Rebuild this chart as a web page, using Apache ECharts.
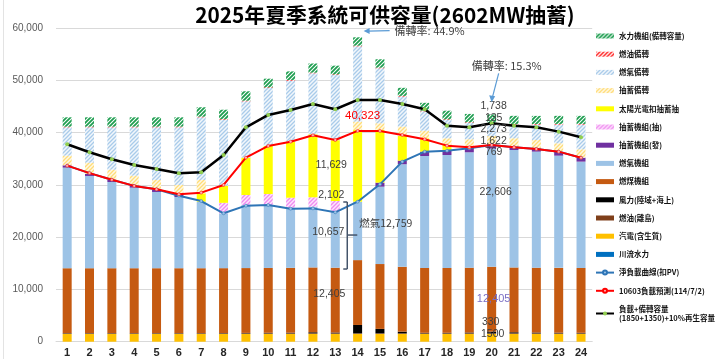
<!DOCTYPE html>
<html><head><meta charset="utf-8">
<script src="https://cdn.jsdelivr.net/npm/echarts@6/dist/echarts.min.js"></script>
<style>html,body{margin:0;padding:0;background:#fff}#c{width:720px;height:359px}</style>
</head><body><div id="c"></div>
<script>
// ---- data (MW) ----
const hours = ['1','2','3','4','5','6','7','8','9','10','11','12','13','14','15','16','17','18','19','20','21','22','23','24'];
const runOfRiver   = [0,0,0,0,0,0,0,0,0,0,0,0,0,0,0,0,0,0,0,0,0,0,0,0];
const cogen        = [1500,1500,1500,1500,1500,1500,1500,1500,1500,1500,1500,1500,1500,1500,1500,1500,1500,1500,1500,1500,1500,1500,1500,1500];
const oilIsland    = [100,100,100,100,100,100,100,100,100,100,100,100,100,100,100,100,100,100,100,100,100,100,100,100];
const wind         = [50,50,50,50,50,50,50,60,80,100,120,200,150,1600,850,320,100,100,150,330,200,150,120,100];
const coal         = [12405,12405,12405,12405,12405,12405,12405,12405,12405,12405,12405,12405,12405,12405,12405,12405,12405,12405,12405,12405,12405,12405,12405,12405];
const gas          = [19235,17645,16495,15405,14585,13625,12725,10495,12065,12045,11505,11625,10657,11175,14795,19615,21415,21600,22075,22606,22465,22195,21455,20335];
const psGen        = [450,380,380,390,380,520,0,0,0,0,0,0,0,0,770,700,830,960,960,769,640,640,770,760];
const psPump       = [0,0,0,0,0,0,0,2000,1910,2100,1910,1790,2102,0,0,0,0,0,0,0,0,0,0,0];
const solar        = [0,0,0,0,0,0,1600,3260,7140,9190,10710,12050,11629,13720,10080,4720,2560,960,0,0,0,0,0,0];
const psReserve    = [1840,2160,1970,1910,1910,1780,2550,0,0,0,0,0,0,1590,1280,1780,1460,1280,1530,1622,1600,1590,1600,1600];
const gasReserve   = [5415,6755,8095,9235,10065,11015,11975,12615,10765,11085,11665,11655,12467,14395,10505,5735,3685,3495,3115,2273,2605,2925,3565,4715];
const oilReserve   = [135,135,135,135,135,135,135,135,135,135,135,135,135,135,135,135,135,135,135,135,135,135,135,135];
const hydroReserve = [1790,1790,1790,1790,1790,1790,1800,1800,1800,1650,1650,1750,1650,1600,1600,1550,1500,1650,1600,1738,1550,1550,1550,1550];
const netLoad         = [33670,32250,30990,29800,29150,27930,26910,24560,26020,26150,25440,25500,24750,26780,30100,34440,36350,36540,37000,37630,37190,36860,36350,35200];
const loadForecast    = [33670,32250,30990,29800,29150,28200,28510,29980,35200,37440,38260,39480,38580,40323,40310,39540,38720,37500,37190,37630,37190,36860,36350,35200];
const loadPlusReserve = [37760,36230,34890,33800,33040,32210,32400,35720,41010,43370,44320,45470,44460,46240,46240,45470,44460,41320,41010,41780,41320,41010,40180,39100];

const CJK = "'Noto Sans CJK TC','Noto Sans CJK SC',sans-serif";
const LAT = "'Liberation Sans',Arial,'Noto Sans CJK TC',sans-serif";

function hatch(fg, bg, size, lw) {
  const c = document.createElement('canvas');
  c.width = c.height = size;
  const g = c.getContext('2d');
  g.fillStyle = bg; g.fillRect(0, 0, size, size);
  g.strokeStyle = fg; g.lineWidth = lw;
  g.beginPath();
  g.moveTo(0, size); g.lineTo(size, 0);
  g.moveTo(-size / 2, size / 2); g.lineTo(size / 2, -size / 2);
  g.moveTo(size / 2, size * 1.5); g.lineTo(size * 1.5, size / 2);
  g.stroke();
  return { image: c, repeat: 'repeat' };
}

const C = {
  hydroR: hatch('#1e9e50', '#ffffff', 4, 1.8),
  oilR: hatch('#ff2020', '#ffffff', 4, 1.5),
  gasR: hatch('#a9cbea', '#f2f7fc', 4, 1.3),
  psR: hatch('#ffdd77', '#fff8e6', 4, 1.3),
  pump: hatch('#f08cf0', '#fde6fd', 4, 1.4)
};

const bar = (name, data, color) => ({
  name, type: 'bar', stack: 's', data, barWidth: 9,
  itemStyle: { color }, emphasis: { disabled: true }
});

const chart = echarts.init(document.getElementById('c'), null, { renderer: 'canvas' });

const legendNames = [
  ['水力機組(備轉容量)', 1], ['燃油備轉', 1], ['燃氣備轉', 1], ['抽蓄備轉', 1],
  ['太陽光電扣抽蓄抽', 1], ['抽蓄機組(抽)', 1], ['抽蓄機組(發)', 1], ['燃氣機組', 1],
  ['燃煤機組', 1], ['風力(陸域+海上)', 1], ['燃油(離島)', 1], ['汽電(含生質)', 1], ['川流水力', 1],
  ['淨負載曲線(扣PV)', 0], ['10603負載預測(114/7/2)', 0], ['負載+備轉容量\n(1850+1350)+10%再生容量', 0]
];

chart.setOption({
  animation: false,
  textStyle: { fontFamily: LAT },
  title: {
    text: '2025年夏季系統可供容量(2602MW抽蓄)',
    left: 380, top: 0, textAlign: 'center',
    textStyle: { fontFamily: CJK, fontSize: 20.8, fontWeight: 'bold', color: '#000' }
  },
  grid: { left: 56, right: 127.8, top: 28, bottom: 17.3, containLabel: false, outerBoundsMode: 'none' },
  legend: {
    orient: 'vertical', left: 595, top: 31.5, padding: 0, itemWidth: 18, itemHeight: 5, itemGap: 9.2,
    selectedMode: false,
    textStyle: { fontFamily: CJK, fontSize: 7.5, color: '#111', fontWeight: 'bold', lineHeight: 9 },
    data: legendNames.map(([n, isBar]) => isBar ? { name: n, icon: 'rect' } : { name: n })
  },
  xAxis: {
    type: 'category', data: hours, boundaryGap: true,
    axisTick: { show: false },
    axisLine: { lineStyle: { color: '#d9d9d9' } },
    axisLabel: { fontSize: 11, fontWeight: 'bold', color: '#262626', margin: 6, fontFamily: LAT }
  },
  yAxis: {
    type: 'value', min: 0, max: 60000, interval: 10000,
    axisLine: { show: false }, axisTick: { show: false },
    axisLabel: { fontSize: 10, color: '#595959', margin: 13, formatter: v => v.toLocaleString('en-US') },
    splitLine: { lineStyle: { color: '#d9d9d9' } }
  },
  series: [
    bar('川流水力', runOfRiver, '#0070c0'),
    bar('汽電(含生質)', cogen, '#ffc000'),
    bar('燃油(離島)', oilIsland, '#7f3f1a'),
    bar('風力(陸域+海上)', wind, '#000000'),
    bar('燃煤機組', coal, '#c55a11'),
    bar('燃氣機組', gas, '#9dc3e6'),
    bar('抽蓄機組(發)', psGen, '#7030a0'),
    bar('抽蓄機組(抽)', psPump, C.pump),
    bar('太陽光電扣抽蓄抽', solar, '#ffff00'),
    bar('抽蓄備轉', psReserve, C.psR),
    bar('燃氣備轉', gasReserve, C.gasR),
    bar('燃油備轉', oilReserve, C.oilR),
    bar('水力機組(備轉容量)', hydroReserve, C.hydroR),
    { name: '淨負載曲線(扣PV)', type: 'line', data: netLoad, z: 5, symbol: 'circle', symbolSize: 3,
      lineStyle: { color: '#2e75b6', width: 2 }, itemStyle: { color: '#9dc3e6', borderColor: '#2e75b6', borderWidth: 0.5 }, emphasis: { disabled: true } },
    { name: '10603負載預測(114/7/2)', type: 'line', data: loadForecast, z: 6, symbol: 'circle', symbolSize: 3,
      lineStyle: { color: '#ff0000', width: 2 }, itemStyle: { color: '#ffb3b3', borderColor: '#ff0000', borderWidth: 0.5 }, emphasis: { disabled: true } },
    { name: '負載+備轉容量\n(1850+1350)+10%再生容量', type: 'line', data: loadPlusReserve, z: 7, symbol: 'circle', symbolSize: 4,
      lineStyle: { color: '#000000', width: 2.5 }, itemStyle: { color: '#92d050' }, emphasis: { disabled: true } }
  ]
});

// ---- annotations, placed from data coordinates ----
const P = (i, v) => chart.convertToPixel({ xAxisIndex: 0, yAxisIndex: 0 }, [i, v]);
const txt = (s, p, dx, opt = {}) => ({
  type: 'text', x: p[0] + dx, y: p[1], z: 100,
  style: Object.assign({ text: s, font: `${opt.size || 10.5}px ${opt.family || LAT}`, fill: opt.color || '#404040',
    textAlign: opt.align || 'center', textVerticalAlign: 'middle', align: opt.align || 'center', verticalAlign: 'middle' })
});
const ln = (x1, y1, x2, y2, color, w) => ({ type: 'line', z: 100, shape: { x1, y1, x2, y2 }, style: { stroke: color, lineWidth: w } });

const g = [];
// hour 13
g.push(txt('11,629', P(12, 33800), -4));
g.push(txt('2,102', P(12, 28060), -4));
g.push(txt('10,657', P(12, 20990), -7));
g.push(txt('12,405', P(12, 9130), -6));
g.push(txt('燃氣12,759', P(12, 22700), 24, { align: 'left', family: CJK, size: 10.5 }));
const bTop = P(12, 26720), bBot = P(12, 13900), bMid = P(12, 20400);
const bx = bTop[0] + 12;
g.push(ln(bx, bTop[1], bx, bBot[1], '#44546a', 1.5));
g.push(ln(bx - 4, bTop[1], bx, bTop[1], '#44546a', 1.5));
g.push(ln(bx - 4, bBot[1], bx, bBot[1], '#44546a', 1.5));
g.push(ln(bx, bMid[1], bx + 10, bMid[1], '#44546a', 1.5));
// hour 14
g.push(txt('40,323', P(13, 43200), 5, { color: '#ff0000', size: 11.5 }));
// hour 20
const h20 = [['1,738', 45090], ['135', 42850], ['2,273', 40690], ['1,622', 38450], ['769', 36230], ['22,606', 28640]];
h20.forEach(([s, v]) => g.push(txt(s, P(19, v), s === '22,606' ? 4 : 2)));
g.push(txt('12,405', P(19, 8170), 2, { color: '#7b6fc4', size: 11 }));
g.push(txt('330', P(19, 3830), -1));
g.push(txt('1500', P(19, 1470), 1));
// reserve-rate callouts
const a1 = P(13, 59500);
g.push(txt('備轉率: 44.9%', [a1[0] + 37, a1[1]], 0, { align: 'left', family: CJK, size: 11 }));
g.push(ln(a1[0] + 32, a1[1], a1[0] + 10, a1[1] + 0.5, '#5b9bd5', 1.2));
g.push({ type: 'polygon', z: 100, shape: { points: [[a1[0] + 6, a1[1] + 0.5], [a1[0] + 12, a1[1] - 2.5], [a1[0] + 12, a1[1] + 3.5]] }, style: { fill: '#5b9bd5' } });
const a2 = P(19, 43300);
g.push(txt('備轉率: 15.3%', [a2[0] - 20, a2[1] - 50], 0, { align: 'left', family: CJK, size: 11 }));
g.push(ln(a2[0] + 7, a2[1] - 42, a2[0] + 1, a2[1] - 19, '#5b9bd5', 1.2));
g.push({ type: 'polygon', z: 100, shape: { points: [[a2[0], a2[1] - 13], [a2[0] - 2.5, a2[1] - 20], [a2[0] + 3.5, a2[1] - 19]] }, style: { fill: '#5b9bd5' } });
// left frame line
g.push(ln(3.5, 0, 3.5, 359, '#e3e3e3', 1));

chart.setOption({ graphic: g });
</script>
</body></html>
